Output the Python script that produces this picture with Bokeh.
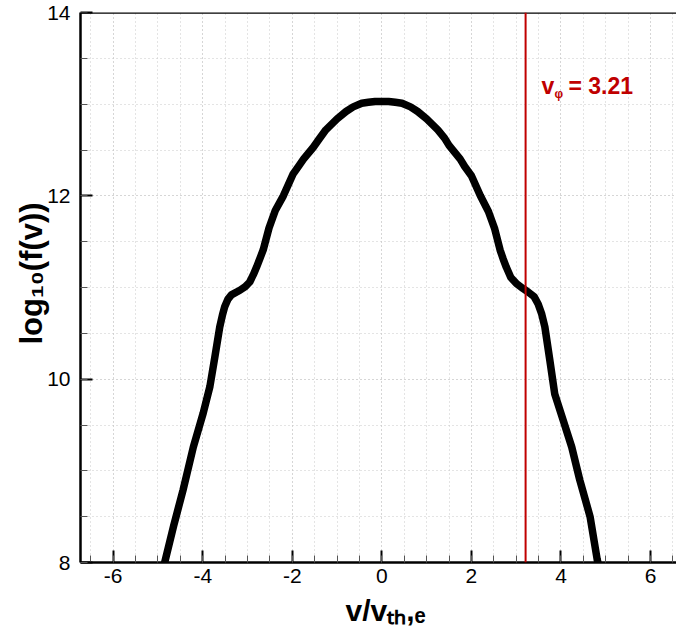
import numpy as np
from bokeh.plotting import figure
from bokeh.models import Range1d, Span, Label, SingleIntervalTicker
from bokeh.embed import file_html
from bokeh.resources import INLINE

# ---- data ----
v = [-4.95, -4.85, -4.65, -4.44, -4.21, -3.99, -3.84, -3.73, -3.62, -3.56, -3.51, -3.44,
     -3.36, -3.17, -3.05, -2.95, -2.87, -2.80, -2.72, -2.65, -2.52, -2.38, -2.20, -1.98,
     -1.85, -1.75, -1.53, -1.40, -1.25, -1.00, -0.80, -0.64, -0.45, -0.30, -0.15, 0.00,
     0.15, 0.30, 0.45, 0.64, 0.80, 1.00, 1.25, 1.40, 1.50, 1.75, 1.85, 2.00, 2.20,
     2.38, 2.52, 2.64, 2.71, 2.78, 2.88, 3.01, 3.15, 3.27, 3.40, 3.49, 3.57, 3.64, 3.75,
     3.86, 4.05, 4.24, 4.42, 4.65, 4.81, 4.90]
logf = [7.80, 8.00, 8.40, 8.79, 9.26, 9.63, 9.92, 10.24, 10.57, 10.70, 10.79, 10.87,
        10.92, 10.97, 11.01, 11.06, 11.14, 11.22, 11.32, 11.41, 11.65, 11.84, 12.00, 12.24,
        12.33, 12.40, 12.53, 12.62, 12.72, 12.84, 12.92, 12.97, 13.01, 13.02, 13.03, 13.03,
        13.03, 13.02, 13.01, 12.97, 12.92, 12.84, 12.72, 12.63, 12.55, 12.40, 12.32, 12.22, 12.00,
        11.83, 11.64, 11.41, 11.31, 11.22, 11.11, 11.04, 10.99, 10.95, 10.90, 10.82, 10.71, 10.57, 10.21,
        9.84, 9.55, 9.26, 8.90, 8.50, 8.03, 7.85]
v_phi = 3.21
x_ticks = [-6, -4, -2, 0, 2, 4, 6]
y_ticks = [8, 10, 12, 14]
x_range_vals = [-6.73, 6.58]
y_range_vals = [8.0, 14.0]
x_label = "v/vₜₕ,ₑ"
y_label = "log₁₀(f(v))"

# ---- layout ----
W, H = 676, 629
L, R, T, B = 80, 0, 12, 67
FONT = "Liberation Sans"
RED = "#c00000"

p = figure(width=W, height=H,
           x_range=Range1d(*x_range_vals), y_range=Range1d(*y_range_vals),
           output_backend="svg", toolbar_location=None,
           min_border_left=L, min_border_right=R, min_border_top=T, min_border_bottom=B)
p.outline_line_color = None
p.background_fill_color = "white"
p.border_fill_color = "white"

fw = W - L - R
fh = H - T - B
def sx(px):
    return x_range_vals[0] + (px - L) / fw * (x_range_vals[1] - x_range_vals[0])
def sy(py):
    return y_range_vals[1] - (py - T) / fh * (y_range_vals[1] - y_range_vals[0])

p.xaxis.ticker = SingleIntervalTicker(interval=2, num_minor_ticks=4)
p.yaxis.ticker = SingleIntervalTicker(interval=2, num_minor_ticks=4)
p.xaxis.major_label_overrides = {t: str(t) for t in x_ticks}
p.yaxis.major_label_overrides = {t: str(t) for t in y_ticks}
for ax in (p.xaxis[0], p.yaxis[0]):
    ax.axis_line_color = "black"
    ax.axis_line_width = 2.5
    ax.major_tick_in = 12
    ax.major_tick_out = 0
    ax.minor_tick_in = 7
    ax.minor_tick_out = 0
    ax.major_tick_line_width = 2
    ax.major_tick_line_color = "black"
    ax.minor_tick_line_width = 1
    ax.minor_tick_line_color = "#555555"
    ax.major_label_text_font = FONT
    ax.major_label_text_font_size = "21px"
    ax.major_label_text_color = "black"
p.xaxis.major_label_standoff = 6
p.yaxis.major_label_standoff = 10

for g in (p.xgrid[0], p.ygrid[0]):
    g.grid_line_color = "#c8c8c8"
    g.grid_line_dash = "1 3"
    g.grid_line_width = 1
    g.minor_grid_line_color = "#c8c8c8"
    g.minor_grid_line_dash = "1 3"
    g.minor_grid_line_width = 1

p.add_layout(Span(location=y_range_vals[1], dimension="width", line_color="black", line_width=2.5))

p.line(v, logf, line_color="black", line_width=7.5, line_join="round", line_cap="round")
p.add_layout(Span(location=v_phi, dimension="height", line_color=RED, line_width=2))

# v_phi label
p.add_layout(Label(x=sx(541), y=sy(85), text="v", text_font=FONT, text_font_style="bold",
                   text_font_size="23px", text_color=RED, text_baseline="alphabetic"))
p.add_layout(Label(x=sx(554), y=sy(93), text="φ", text_font=FONT, text_font_style="bold",
                   text_font_size="12px", text_color=RED, text_baseline="alphabetic"))
p.add_layout(Label(x=sx(568), y=sy(85), text="= 3.21", text_font=FONT, text_font_style="bold",
                   text_font_size="23px", text_color=RED, text_baseline="alphabetic"))

# axis titles, placed in the side panels so they are not clipped to the frame
p.add_layout(Label(x=sx(345), y=sy(610), text=x_label, text_font=FONT, text_font_style="bold",
                   text_font_size="30px", text_color="black", text_baseline="alphabetic"), "below")
p.add_layout(Label(x=sx(31), y=sy(344), text=y_label, angle=90, angle_units="deg",
                   text_font=FONT, text_font_style="bold", text_font_size="31px",
                   text_color="black", text_baseline="alphabetic"), "left")

open("out.html", "w").write(file_html(p, INLINE))
